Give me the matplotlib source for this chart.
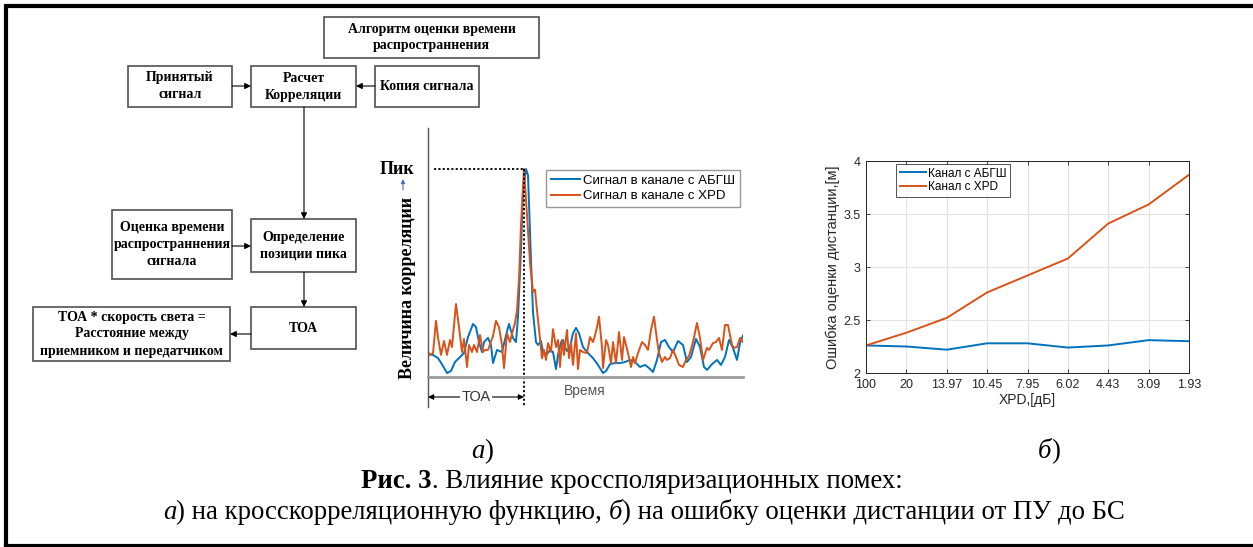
import numpy as np
import matplotlib
matplotlib.use('Agg')
import matplotlib.pyplot as plt
from matplotlib.patches import Rectangle

plt.rcParams['font.family'] = ['Liberation Sans', 'DejaVu Sans']
SERIF = ['Liberation Serif', 'DejaVu Serif']
BLUE = '#0072BD'
ORANGE = '#D95319'

# --- correlation sketch (a): time samples and normalised correlation ---
t_awgn = [0, 5, 10, 15, 19, 23, 27, 32, 36, 40, 45, 48, 51, 54, 56, 60, 63, 65, 69, 74,
          78, 81, 85, 88, 90, 93, 95, 98, 100, 103, 105, 108, 110, 113, 115, 119, 122,
          125, 128, 130, 133, 135, 137, 139, 142, 145, 148, 151, 155, 160, 165, 170, 175,
          178, 182, 187, 192, 197, 202, 207, 212, 217, 221, 225, 229, 233, 237, 241, 245,
          250, 255, 259, 263, 268, 272, 276, 279, 284, 289, 293, 297, 301, 305, 309, 312, 315]
c_awgn = [0.11, 0.106, 0.091, 0.053, 0.019, 0.029, 0.072, 0.096, 0.115, 0.192, 0.255, 0.24,
          0.168, 0.12, 0.168, 0.188, 0.154, 0.067, 0.13, 0.12, 0.20, 0.255, 0.188, 0.168,
          0.29, 0.61, 0.90, 1.0, 0.97, 0.56, 0.31, 0.168, 0.154, 0.173, 0.12, 0.11, 0.13,
          0.12, 0.038, 0.106, 0.168, 0.178, 0.144, 0.125, 0.144, 0.21, 0.236, 0.21, 0.144,
          0.115, 0.091, 0.058, 0.019, 0.029, 0.062, 0.067, 0.067, 0.072, 0.082, 0.072,
          0.048, 0.058, 0.043, 0.024, 0.082, 0.168, 0.178, 0.144, 0.12, 0.173, 0.154,
          0.072, 0.096, 0.183, 0.144, 0.048, 0.034, 0.062, 0.082, 0.058, 0.096, 0.178,
          0.14, 0.082, 0.163, 0.20]

t_xpd = [0, 2, 5, 8, 10, 13, 16, 19, 22, 24, 28, 31, 34, 36, 39, 41, 44, 46, 49, 52, 55,
         57, 60, 65, 68, 71, 74, 76, 79, 82, 85, 87, 89, 91, 93, 96, 99, 102, 105, 107, 109,
         111, 114, 116, 118, 120, 123, 125, 128, 130, 132, 134, 136, 139, 141, 143, 145,
         148, 150, 152, 155, 159, 162, 165, 167, 169, 171, 174, 175, 178, 180, 183, 185,
         188, 191, 194, 196, 198, 200, 203, 205, 207, 210, 214, 217, 220, 223, 226, 229,
         231, 234, 237, 239, 242, 245, 248, 251, 255, 258, 261, 265, 269, 272, 275, 279,
         281, 285, 288, 291, 294, 297, 300, 304, 306, 309, 312, 315]
c_xpd = [0.12, 0.106, 0.115, 0.27, 0.19, 0.106, 0.173, 0.106, 0.178, 0.144, 0.351, 0.24,
         0.12, 0.183, 0.048, 0.154, 0.12, 0.154, 0.12, 0.202, 0.12, 0.13, 0.13, 0.197, 0.27,
         0.24, 0.154, 0.043, 0.21, 0.168, 0.226, 0.26, 0.32, 0.47, 0.73, 1.0, 0.78, 0.55,
         0.41, 0.42, 0.32, 0.23, 0.09, 0.13, 0.082, 0.163, 0.12, 0.23, 0.144, 0.178, 0.048,
         0.178, 0.106, 0.226, 0.091, 0.163, 0.058, 0.21, 0.038, 0.13, 0.12, 0.115, 0.192,
         0.168, 0.20, 0.24, 0.29, 0.144, 0.043, 0.178, 0.154, 0.067, 0.168, 0.067, 0.216,
         0.082, 0.192, 0.154, 0.115, 0.048, 0.096, 0.067, 0.115, 0.168, 0.154, 0.13, 0.226,
         0.29, 0.178, 0.115, 0.072, 0.096, 0.082, 0.091, 0.13, 0.096, 0.058, 0.048, 0.082,
         0.10, 0.168, 0.26, 0.188, 0.082, 0.14, 0.13, 0.163, 0.168, 0.188, 0.13, 0.25, 0.25,
         0.154, 0.14, 0.144, 0.188, 0.168]
toa_time = 96
peak_value = 1.0

# --- distance error vs XPD (b) ---
xpd_labels = ['100', '20', '13.97', '10.45', '7.95', '6.02', '4.43', '3.09', '1.93']
err_awgn = [2.26, 2.25, 2.22, 2.28, 2.28, 2.24, 2.26, 2.31, 2.30]
err_xpd = [2.26, 2.38, 2.52, 2.76, 2.92, 3.08, 3.41, 3.59, 3.87]

W, H = 1253, 547
fig = plt.figure(figsize=(W / 100, H / 100), dpi=100, facecolor='white')

def px_axes(l, t, r, b):
    return fig.add_axes([l / W, 1 - b / H, (r - l) / W, (b - t) / H])

bg = fig.add_axes([0, 0, 1, 1])
bg.set_xlim(0, W)
bg.set_ylim(H, 0)
bg.axis('off')

# outer frame (left, top, bottom)
bg.plot([6, 6, W], [546, 6, 6], color='k', lw=3, solid_joinstyle='miter')
bg.plot([6, W], [546, 546], color='k', lw=3)

# flowchart
boxes = [
    (324, 17, 539, 58, 'Алгоритм оценки времени\nраспространнения'),
    (128, 66, 232, 107, 'Принятый\nсигнал'),
    (251, 66, 356, 107, 'Расчет\nКорреляции'),
    (375, 66, 479, 107, 'Копия сигнала'),
    (112, 210, 232, 279, 'Оценка времени\nраспространнения\nсигнала'),
    (251, 219, 356, 272, 'Определение\nпозиции пика'),
    (251, 307, 356, 349, 'ТОА'),
    (33, 307, 230, 361, 'ТОА * скорость света =\nРасстояние между\nприемником и передатчиком'),
]
for x0, y0, x1, y1, txt in boxes:
    bg.add_patch(Rectangle((x0, y0), x1 - x0, y1 - y0, fill=False, ec='#505050', lw=1.2))
    bg.text((x0 + x1) / 2, (y0 + y1) / 2, txt, ha='center', va='center',
            family=SERIF, weight='bold', fontsize=10, linespacing=1.4)

arrows = [((232, 86), (251, 86)), ((375, 86), (356, 86)), ((304, 107), (304, 219)),
          ((232, 246), (251, 246)), ((304, 272), (304, 307)), ((251, 334), (230, 334))]
for (xa, ya), (xb, yb) in arrows:
    bg.annotate('', xy=(xb, yb), xytext=(xa, ya),
                arrowprops=dict(arrowstyle='-|>', color='k', lw=0.8, mutation_scale=9,
                                shrinkA=0, shrinkB=0))

# (a) correlation sketch
ax1 = px_axes(428, 128, 743, 377)
ax1.plot(t_awgn, c_awgn, color=BLUE, lw=1.4, label='Сигнал в канале с АБГШ')
ax1.plot(t_xpd, c_xpd, color=ORANGE, lw=1.4, label='Сигнал в канале с XPD')
ax1.set_xlim(0, 315)
ax1.set_ylim(0, 249 / 208)
ax1.set_xticks([])
ax1.set_yticks([])
for s in ['top', 'right']:
    ax1.spines[s].set_visible(False)
ax1.spines['left'].set_color('#555555')
ax1.spines['left'].set_linewidth(1)
ax1.spines['bottom'].set_color('#9a9a9a')
ax1.spines['bottom'].set_linewidth(2)
low = -30 / 208
ax1.plot([6, toa_time], [peak_value, peak_value], color='k', ls=(0, (1.2, 1.2)), lw=1.3,
         clip_on=False)
ax1.plot([toa_time, toa_time], [peak_value, low], color='k', ls=(0, (1.2, 1.2)), lw=1.3,
         clip_on=False)
ax1.plot([0, 0], [0, low], color='#555555', lw=1, clip_on=False)
ax1.annotate('', xy=(0, -20 / 208), xytext=(toa_time, -20 / 208),
             arrowprops=dict(arrowstyle='<|-|>', color='k', lw=0.8, mutation_scale=8,
                             shrinkA=0, shrinkB=0), annotation_clip=False)
ax1.text(toa_time / 2, -20 / 208, 'ТОА', ha='center', va='center', fontsize=10.5,
         color='#333333', bbox=dict(fc='white', ec='none', pad=1), clip_on=False)
ax1.text(157, -14 / 208, 'Время', ha='center', va='center', fontsize=10, color='#555555',
         clip_on=False)
ax1.legend(loc='upper left', bbox_to_anchor=(546 / W, 1 - 170 / H),
           bbox_transform=fig.transFigure, borderaxespad=0, fontsize=9.5, frameon=True,
           fancybox=False, edgecolor='#7f7f7f', handlelength=2.2, handletextpad=0.25,
           labelspacing=0.25, borderpad=0.35)
ax1.get_legend().get_frame().set_linewidth(1.0)

bg.text(397, 169, 'Пик', ha='center', va='center', family=SERIF, weight='bold', fontsize=13)
bg.annotate('', xy=(403, 179), xytext=(403, 190),
            arrowprops=dict(arrowstyle='-|>', color='#4a6fb5', lw=0.8, mutation_scale=6,
                            shrinkA=0, shrinkB=0))
bg.text(408, 288, 'Величина корреляции', rotation=90, ha='center', va='center',
        family=SERIF, weight='bold', fontsize=13)

# (b) distance error
ax2 = px_axes(866, 161, 1189, 373)
xs = np.arange(len(xpd_labels))
ax2.plot(xs, err_awgn, color=BLUE, lw=1.4, label='Канал с АБГШ')
ax2.plot(xs, err_xpd, color=ORANGE, lw=1.4, label='Канал с XPD')
ax2.set_xlim(0, len(xpd_labels) - 1)
ax2.set_ylim(2, 4)
ax2.set_xticks(xs)
ax2.set_xticklabels(xpd_labels)
ax2.set_yticks([2, 2.5, 3, 3.5, 4])
ax2.set_yticklabels(['2', '2.5', '3', '3.5', '4'])
ax2.grid(True, color='#e3e3e3', lw=0.8)
ax2.set_axisbelow(True)
ax2.tick_params(direction='in', length=3, width=0.6, labelsize=9, colors='#262626',
                top=True, right=True, pad=4)
for s in ax2.spines.values():
    s.set_color('#262626')
    s.set_linewidth(0.7)
ax2.set_xlabel('XPD,[дБ]', fontsize=10, color='#262626', labelpad=2)
ax2.set_ylabel('Ошибка оценки дистанции,[м]', fontsize=10.5, color='#262626', labelpad=2)
ax2.legend(loc='upper left', bbox_to_anchor=(896 / W, 1 - 164 / H),
           bbox_transform=fig.transFigure, borderaxespad=0, fontsize=8.5, frameon=True,
           fancybox=False, edgecolor='#262626', handlelength=2.2, handletextpad=0.2,
           labelspacing=0.15, borderpad=0.3)
ax2.get_legend().get_frame().set_linewidth(0.7)

# captions: pieces with mixed styles laid out on one baseline
cap = dict(family=SERIF, fontsize=19.3, va='baseline', ha='left')
renderer = fig.canvas.get_renderer()

def line(parts, xc, y):
    arts = [bg.text(0, y, txt, **cap, **kw) for txt, kw in parts]
    widths = [a.get_window_extent(renderer).width for a in arts]
    x = xc - sum(widths) / 2
    for a, w in zip(arts, widths):
        a.set_x(x)
        x += w

line([('а', {'style': 'italic'}), (')', {})], 482, 458)
line([('б', {'style': 'italic'}), (')', {})], 1049, 458)
line([('Рис. 3', {'weight': 'bold'}), ('. Влияние кроссполяризационных помех:', {})],
     632, 488)
line([('а', {'style': 'italic'}), (') на кросскорреляционную функцию, ', {}),
      ('б', {'style': 'italic'}), (') на ошибку оценки дистанции от ПУ до БС', {})],
     644, 519)

fig.savefig('out.png', dpi=100, facecolor='white')
